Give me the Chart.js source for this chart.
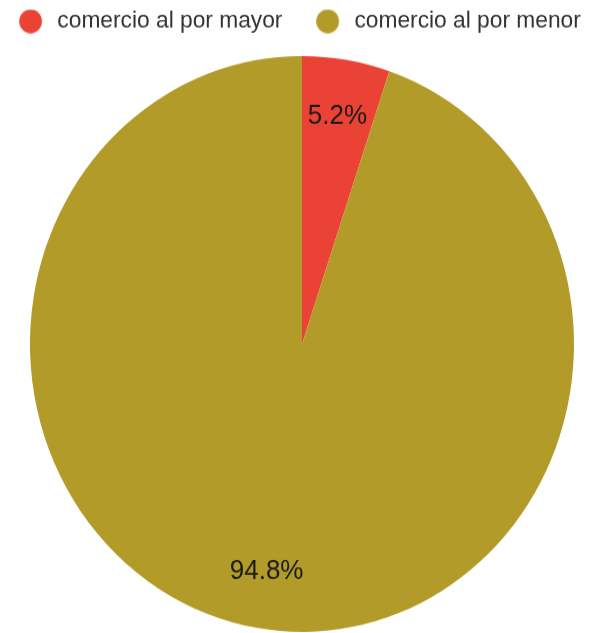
<!DOCTYPE html>
<html>
<head>
<meta charset="utf-8">
<script src="https://cdn.jsdelivr.net/npm/chart.js@4.4.1/dist/chart.umd.min.js"></script>
<style>
html, body { margin: 0; padding: 0; background: #fff; overflow: hidden; width: 595px; height: 633px; }
#wrap { position: absolute; left: -28.5px; top: 0; width: 660px; height: 598px; transform: scaleY(1.0585); transform-origin: 0 0; }
</style>
</head>
<body>
<div id="wrap"><canvas id="c"></canvas></div>
<script>
const categories = ['comercio al por mayor', 'comercio al por menor'];
const shares = [5.2, 94.8];
const sliceColors = ['#EA4335', '#B29B28'];

const FONT = '"Liberation Sans", Arial, sans-serif';
const LEGEND_FONT_SIZE = 22.75;
const LEGEND_PAD = 37.9;
const LEGEND_CENTER_Y = 20.1;

function makeDot(color) {
  const c = document.createElement('canvas');
  c.width = 31; c.height = 23;
  const g = c.getContext('2d');
  g.fillStyle = color;
  g.beginPath();
  g.arc(11.5, 11.5, 11.35, 0, Math.PI * 2);
  g.fill();
  return c;
}

const legendShift = {
  id: 'legendShift',
  afterLayout(chart) {
    const lg = chart.legend;
    if (lg) lg.top = LEGEND_CENTER_Y - LEGEND_PAD - LEGEND_FONT_SIZE / 2;
  }
};

const sliceLabels = {
  id: 'sliceLabels',
  afterDatasetsDraw(chart) {
    const meta = chart.getDatasetMeta(0);
    const ctx = chart.ctx;
    ctx.save();
    ctx.font = '26px ' + FONT;
    ctx.fillStyle = '#1a1a1a';
    ctx.textAlign = 'center';
    ctx.textBaseline = 'middle';
    meta.data.forEach((arc, i) => {
      const p = arc.getProps(['x', 'y', 'startAngle', 'endAngle', 'outerRadius'], true);
      const mid = (p.startAngle + p.endAngle) / 2;
      const r = p.outerRadius * 0.8;
      ctx.fillText(shares[i].toFixed(1) + '%', p.x + Math.cos(mid) * r, p.y + Math.sin(mid) * r);
    });
    ctx.restore();
  }
};

new Chart(document.getElementById('c'), {
  type: 'pie',
  data: {
    labels: categories,
    datasets: [{
      data: shares,
      backgroundColor: sliceColors,
      borderWidth: 0,
      hoverOffset: 0,
      offset: 0
    }]
  },
  options: {
    responsive: true,
    maintainAspectRatio: false,
    animation: false,
    layout: { padding: { left: 0, right: 0, top: 0, bottom: 1.1 } },
    plugins: {
      tooltip: { enabled: false },
      legend: {
        position: 'top',
        align: 'center',
        maxHeight: 52.9,
        labels: {
          usePointStyle: true,
          boxWidth: LEGEND_FONT_SIZE,
          padding: LEGEND_PAD,
          color: '#333',
          font: { family: FONT, size: LEGEND_FONT_SIZE },
          generateLabels(chart) {
            const ds = chart.data.datasets[0];
            return chart.data.labels.map((text, i) => ({
              text,
              fillStyle: ds.backgroundColor[i],
              strokeStyle: ds.backgroundColor[i],
              lineWidth: 0,
              pointStyle: makeDot(ds.backgroundColor[i]),
              fontColor: '#333',
              hidden: false,
              index: i
            }));
          }
        }
      }
    }
  },
  plugins: [legendShift, sliceLabels]
});
</script>
</body>
</html>
